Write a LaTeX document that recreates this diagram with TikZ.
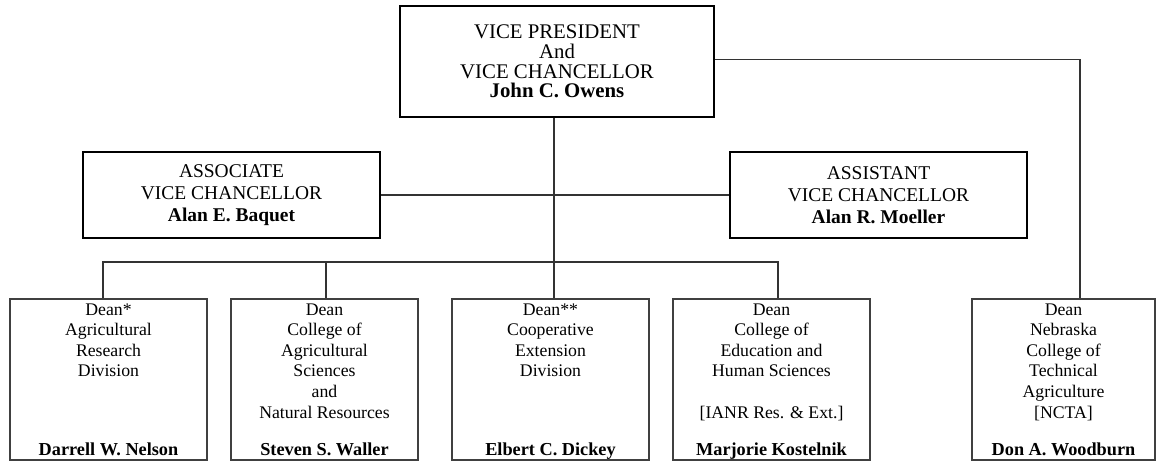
\documentclass[tikz,border=0pt]{standalone}
\usepackage{fontspec}
\setmainfont{Liberation Serif}
\usetikzlibrary{calc}
\tikzset{
  bigbox/.style={draw=black, line width=2.2pt, inner sep=0pt, align=center},
  deanbox/.style={draw=black!75, line width=0.8pt, inner sep=0pt, minimum height=120.75pt},
  conn/.style={draw=black!80, line width=0.8pt},
  toptext/.style={anchor=north, inner sep=0pt, align=center, font=\fontsize{13.3pt}{15.4pt}\selectfont},
  nametext/.style={anchor=base, inner sep=0pt, font=\fontsize{13.7pt}{15.4pt}\selectfont\bfseries},
}
\begin{document}
\begin{tikzpicture}[x=0.75pt,y=-0.75pt]
\useasboundingbox (0,0) rectangle (1164,462);
% top
\node[bigbox, minimum width=235.5pt, minimum height=83.25pt, font=\fontsize{15.6pt}{14.8pt}\selectfont] (vp) at (557,61.5)
  {VICE PRESIDENT\\And\\VICE CHANCELLOR\\\textbf{John C. Owens}};
% middle
\node[bigbox, minimum width=222.75pt, minimum height=64.5pt, font=\fontsize{14.6pt}{16.3pt}\selectfont] (assoc) at (231.5,195)
  {ASSOCIATE\\VICE CHANCELLOR\\\textbf{Alan E. Baquet}};
\node[bigbox, minimum width=222.75pt, minimum height=64.5pt, font=\fontsize{14.6pt}{16.3pt}\selectfont] (assist) at (878.5,195)
  {ASSISTANT\\VICE CHANCELLOR\\\textbf{Alan R. Moeller}};
% bottom boxes
\node[deanbox, minimum width=147.75pt] (b1) at (108.5,379.5) {};
\node[deanbox, minimum width=140.25pt] (b2) at (324.5,379.5) {};
\node[deanbox, minimum width=147.75pt] (b3) at (550.5,379.5) {};
\node[deanbox, minimum width=147.75pt] (b4) at (771.5,379.5) {};
\node[deanbox, minimum width=137.25pt] (b5) at (1063.5,379.5) {};
% texts
\node[toptext] (t1) at ($(b1.north)+(0,5)$) {Dean*\\Agricultural\\Research\\Division};
\node[toptext] (t2) at ($(b2.north)+(0,5)$) {Dean\\College of\\Agricultural\\Sciences\\and\\Natural Resources};
\node[toptext] (t3) at ($(b3.north)+(0,5)$) {Dean**\\Cooperative\\Extension\\Division};
\node[toptext] (t4) at ($(b4.north)+(0,5)$) {Dean\\College of\\Education and\\Human Sciences\\[15.4pt][IANR Res. \& Ext.]};
\node[toptext] (t5) at ($(b5.north)+(0,5)$) {Dean\\Nebraska\\College of\\Technical\\Agriculture\\{[NCTA]}};
\node[nametext] (n1) at ($(b1.south)+(0,-5)$) {Darrell W. Nelson};
\node[nametext] (n2) at ($(b2.south)+(0,-5)$) {Steven S. Waller};
\node[nametext] (n3) at ($(b3.south)+(0,-5)$) {Elbert C. Dickey};
\node[nametext] (n4) at ($(b4.south)+(0,-5)$) {Marjorie Kostelnik};
\node[nametext] (n5) at ($(b5.south)+(0,-5)$) {Don A. Woodburn};
% connectors
\coordinate (c1) at (103,262);
\coordinate (c2) at (326,262);
\coordinate (c3) at (554,262);
\coordinate (c4) at (778,262);
\coordinate (r1) at (1080,59.3);
\draw[conn] (vp.south -| c3) -- (b3.north -| c3);
\draw[conn] (assoc.east) -- (assist.west);
\draw[conn] (b1.north -| c1) -- (c1) -- (c4) -- (b4.north -| c4);
\draw[conn] (c2) -- (b2.north -| c2);
\draw[conn] (vp.east |- r1) -- (r1) -- (b5.north -| r1);
\end{tikzpicture}
\end{document}
